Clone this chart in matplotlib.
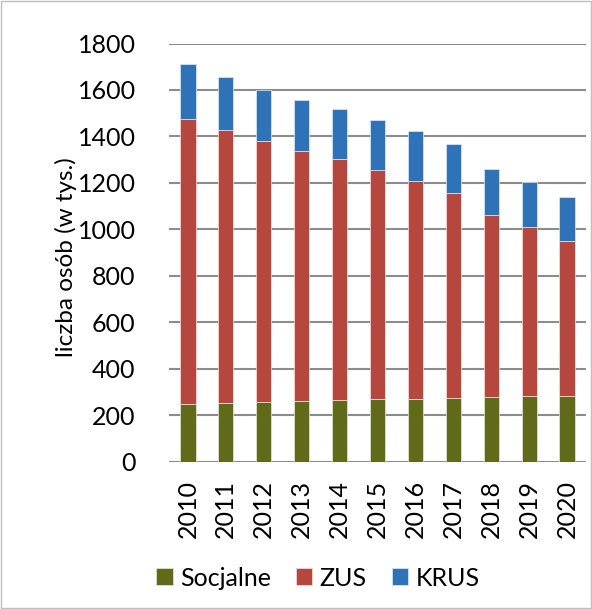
import matplotlib
matplotlib.use("Agg")
import matplotlib.pyplot as plt
import numpy as np

lata = ['2010', '2011', '2012', '2013', '2014', '2015', '2016', '2017', '2018', '2019', '2020']
socjalne = [247, 250, 258, 262, 266, 269, 270, 275, 277, 280, 283]
zus = [1230, 1177, 1123, 1077, 1037, 987, 937, 881, 784, 728, 668]
krus = [236, 227, 220, 219, 215, 215, 215, 211, 199, 196, 187]

kolory = ['#616a18', '#b5473f', '#2e73b7']

plt.rcParams['font.family'] = ['Lato', 'DejaVu Sans']

fig = plt.figure(figsize=(5.92, 6.09), dpi=100)
ax = fig.add_axes([169/592, 1 - 461.5/609, 417/592, 418/609])

x = np.arange(len(lata))
dol = np.zeros(len(lata))
for serie, nazwa, kolor in zip([socjalne, zus, krus], ['Socjalne', 'ZUS', 'KRUS'], kolory):
    ax.bar(x, serie, width=0.4, bottom=dol, color=kolor, label=nazwa,
           edgecolor='#e8e8e8', linewidth=0.5, zorder=3)
    dol += np.array(serie)

ax.set_ylim(0, 1800)
ax.set_xlim(-0.5, len(lata) - 0.5)
ax.set_yticks(range(0, 1801, 200))
ax.yaxis.grid(True, color='#8c8c8c', linewidth=1.5, zorder=0)
ax.set_xticks(x)
ax.set_xticklabels(lata, rotation=90, fontsize=18)
ax.tick_params(axis='y', labelsize=18, length=0, pad=24)
ax.tick_params(axis='x', length=0, pad=13)
for s in ['top', 'right', 'left', 'bottom']:
    ax.spines[s].set_visible(False)
ax.set_ylabel('liczba osób (w tys.)', fontsize=17.5)
ax.yaxis.set_label_coords(-0.22, 0.49)

fig.legend(loc='center', bbox_to_anchor=(318/592, 1 - 578/609), ncol=3, frameon=False,
           fontsize=18, handlelength=0.65, handleheight=0.65, handletextpad=0.3, columnspacing=1.0)

fig.patches.append(plt.Rectangle((0.002, 0.002), 0.996, 0.996, transform=fig.transFigure,
                                 fill=False, edgecolor='#bfbfbf', linewidth=1))

fig.savefig('out.png', dpi=100)
